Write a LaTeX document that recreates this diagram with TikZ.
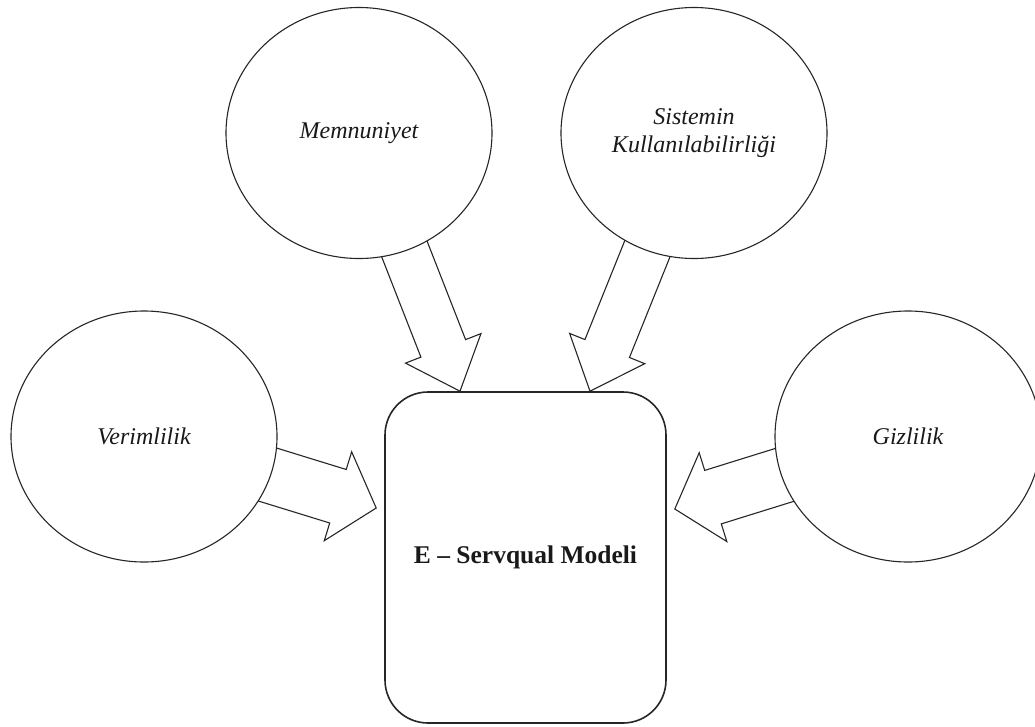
\documentclass[tikz,border=0pt]{standalone}
\usepackage{fontspec}
\setmainfont{Liberation Serif}
\usetikzlibrary{shapes.geometric,calc,backgrounds}

\tikzset{
  factor/.style={ellipse, draw=black!85, line width=1.1pt, fill=white,
    minimum width=266pt, minimum height=251pt, inner sep=0pt, align=center,
    font=\fontsize{24}{28}\selectfont\itshape, text=black!90},
  modelbox/.style={draw=black!85, line width=1.6pt, rounded corners=43pt, fill=white,
    minimum width=281pt, minimum height=331pt,
    font=\fontsize{25.5}{30}\selectfont\bfseries, text=black!90},
  arrowline/.style={draw=black!85, line width=1.1pt, line join=miter},
}

% Block arrow from the centre of a node (its tail hides behind the node)
% #1 start node, #2 tip coordinate, #3 shaft half-width, #4 head half-width, #5 head length
\newcommand{\fatarrow}[5]{%
  \coordinate (fa-base) at ($(#2)!#5!(#1.center)$);
  \draw[arrowline] ($(#1.center)!#3!90:(#2)$)
    -- ($(fa-base)!#3!90:(#2)$)
    -- ($(fa-base)!#4!90:(#2)$)
    -- (#2)
    -- ($(fa-base)!#4!-90:(#2)$)
    -- ($(fa-base)!#3!-90:(#2)$)
    -- ($(#1.center)!#3!-90:(#2)$) -- cycle;
}

\begin{document}
\begin{tikzpicture}[x=1pt,y=-1pt]
  \useasboundingbox (0,0) rectangle (1035,726);

  % dimensions around the central model
  \node[factor] (memnun) at (359,133) {Memnuniyet};
  \node[factor] (sistem) at (694,133) {Sistemin\\Kullanılabilirliği};
  \node[factor] (verim) at (144,436.5) {Verimlilik};
  \node[factor] (gizli) at (908,436.5) {Gizlilik};

  % central model
  \node[modelbox] (model) at (525.5,557.5) {E – Servqual Modeli};

  % arrow tips on the model box
  \coordinate (tipM) at ($(model.north)+(-65.5,0)$);
  \coordinate (tipS) at ($(model.north)+(64.5,0)$);
  \coordinate (tipV) at ($(model.west)+(-8,-49.5)$);
  \coordinate (tipG) at ($(model.east)+(8,-48.5)$);

  \begin{pgfonlayer}{background}
    \fatarrow{memnun}{tipM}{24pt}{40.5pt}{46pt}
    \fatarrow{sistem}{tipS}{24pt}{40.5pt}{46pt}
    \fatarrow{verim}{tipV}{28pt}{46.5pt}{40pt}
    \fatarrow{gizli}{tipG}{28pt}{46.5pt}{40pt}
  \end{pgfonlayer}
\end{tikzpicture}
\end{document}
